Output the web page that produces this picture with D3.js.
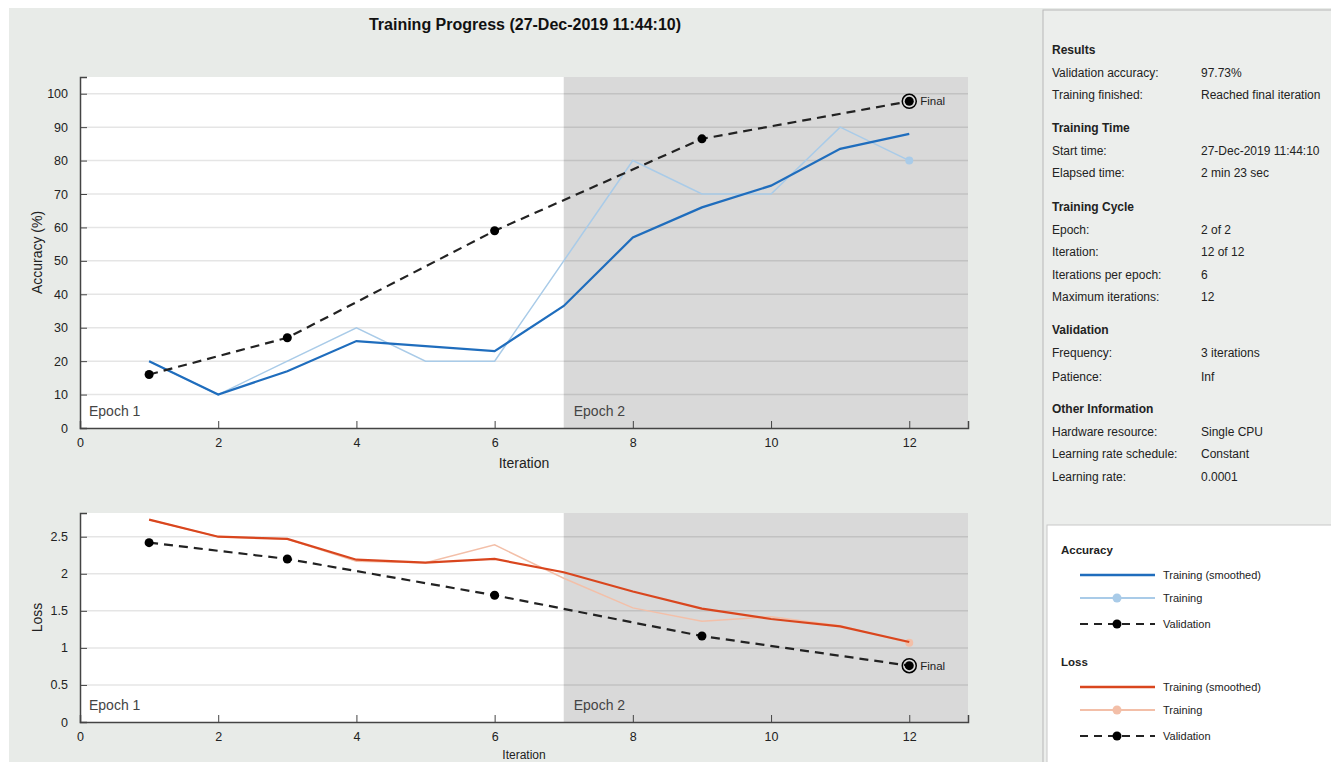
<!DOCTYPE html>
<html>
<head>
<meta charset="utf-8">
<script src="https://cdn.jsdelivr.net/npm/d3@7"></script>
<style>
  body { margin: 0; background: #fff; font-family: "Liberation Sans", Arial, sans-serif; }
  svg { display: block; }
</style>
</head>
<body>
<svg id="chart" width="1331" height="762"></svg>
<script>
// accuracy (%)
const iterations = [1, 2, 3, 4, 5, 6, 7, 8, 9, 10, 11, 12];
const accTrain = [20, 10, 20, 30, 20, 20, 50, 80, 70, 70, 90, 80];
const accSmooth = [20, 10, 17, 26, 24.5, 23, 36.5, 57, 66, 72.5, 83.5, 88];
const valIters = [1, 3, 6, 9, 12];
const accVal = [16, 27, 59, 86.5, 97.73];

// loss
const lossTrain = [2.73, 2.5, 2.47, 2.17, 2.15, 2.39, 1.94, 1.54, 1.36, 1.42, 1.3, 1.07];
const lossSmooth = [2.73, 2.5, 2.47, 2.19, 2.15, 2.2, 2.02, 1.76, 1.53, 1.39, 1.29, 1.08];
const lossVal = [2.42, 2.2, 1.71, 1.16, 0.76];

const iterTicks = [0, 2, 4, 6, 8, 10, 12];
const accTicks = [0, 10, 20, 30, 40, 50, 60, 70, 80, 90, 100];
const lossTicks = [0, 0.5, 1, 1.5, 2, 2.5];

const infoRows = [
  ["Results", null],
  ["Validation accuracy:", "97.73%"],
  ["Training finished:", "Reached final iteration"],
  ["Training Time", null],
  ["Start time:", "27-Dec-2019 11:44:10"],
  ["Elapsed time:", "2 min 23 sec"],
  ["Training Cycle", null],
  ["Epoch:", "2 of 2"],
  ["Iteration:", "12 of 12"],
  ["Iterations per epoch:", "6"],
  ["Maximum iterations:", "12"],
  ["Validation", null],
  ["Frequency:", "3 iterations"],
  ["Patience:", "Inf"],
  ["Other Information", null],
  ["Hardware resource:", "Single CPU"],
  ["Learning rate schedule:", "Constant"],
  ["Learning rate:", "0.0001"]
];

const svg = d3.select("#chart");

// figure background
svg.append("rect").attr("x", 9).attr("y", 8).attr("width", 1331).attr("height", 762).attr("fill", "#e8ebe8");

svg.append("text")
  .text("Training Progress (27-Dec-2019 11:44:10)")
  .attr("x", 525).attr("y", 30)
  .attr("text-anchor", "middle")
  .style("font-size", "16px").style("font-weight", "700").attr("fill", "#111");

const x0 = 80, x1 = 968;

function drawPanel(cfg) {
  const x = d3.scaleLinear().domain([0, 12.85]).range([x0, x1]);
  const y = d3.scaleLinear().domain(cfg.domain).range([cfg.bottom, cfg.top]);
  const g = svg.append("g");

  g.append("rect").attr("x", x0).attr("y", cfg.top)
    .attr("width", x1 - x0).attr("height", cfg.bottom - cfg.top).attr("fill", "#fff");
  g.append("rect").attr("x", x(7)).attr("y", cfg.top)
    .attr("width", x1 - x(7)).attr("height", cfg.bottom - cfg.top).attr("fill", "#d9d9d9");

  // horizontal grid
  g.selectAll(".grid").data(cfg.ticks.slice(1)).enter().append("line")
    .attr("x1", x0).attr("x2", x1)
    .attr("y1", d => y(d)).attr("y2", d => y(d))
    .attr("stroke", "rgba(0,0,0,0.1)").attr("stroke-width", 1.5);

  g.append("text").text("Epoch 1").attr("x", x0 + 9).attr("y", cfg.bottom - 12)
    .style("font-size", "14px").attr("fill", "#444");
  g.append("text").text("Epoch 2").attr("x", x(7) + 10).attr("y", cfg.bottom - 12)
    .style("font-size", "14px").attr("fill", "#444");

  // axes
  const xAxis = d3.axisBottom(x).tickValues(iterTicks).tickSize(-7).tickPadding(10);
  const gx = g.append("g").attr("transform", `translate(0,${cfg.bottom})`).call(xAxis);
  const yAxis = d3.axisLeft(y).tickValues(cfg.ticks).tickSize(-7).tickPadding(12)
    .tickFormat(d => String(d));
  const gy = g.append("g").attr("transform", `translate(${x0},0)`).call(yAxis);
  [gx, gy].forEach(a => {
    a.select(".domain").attr("stroke", "#444").attr("stroke-width", 1.5);
    a.selectAll(".tick line").attr("stroke", "#444");
    a.selectAll(".tick text").style("font-size", "12.5px").attr("fill", "#222")
      .style("font-family", "Liberation Sans, Arial, sans-serif");
  });
  gx.select(".tick line").remove();

  g.append("text").text(cfg.ylabel)
    .attr("transform", `translate(42,${(cfg.top + cfg.bottom) / 2}) rotate(-90)`)
    .attr("text-anchor", "middle").style("font-size", "14px").attr("fill", "#222");
  g.append("text").text("Iteration").attr("x", 524).attr("y", cfg.bottom + cfg.xlabelGap)
    .attr("text-anchor", "middle").style("font-size", cfg.xlabelSize).attr("fill", "#222");

  const line = d3.line().x(d => x(d[0])).y(d => y(d[1]));
  const train = iterations.map((it, i) => [it, cfg.train[i]]);
  const smooth = iterations.map((it, i) => [it, cfg.smooth[i]]);
  const val = valIters.map((it, i) => [it, cfg.val[i]]);

  g.append("path").attr("d", line(train)).attr("fill", "none")
    .attr("stroke", cfg.light).attr("stroke-width", 1.5);
  g.append("circle").attr("cx", x(12)).attr("cy", y(cfg.train[11])).attr("r", 4)
    .attr("fill", cfg.light);
  g.append("path").attr("d", line(smooth)).attr("fill", "none")
    .attr("stroke", cfg.dark).attr("stroke-width", 2.2);
  g.append("path").attr("d", line(val)).attr("fill", "none")
    .attr("stroke", "#222").attr("stroke-width", 2.2).attr("stroke-dasharray", "9,6");
  g.selectAll(".vdot").data(val).enter().append("circle")
    .attr("cx", d => x(d[0])).attr("cy", d => y(d[1])).attr("r", 4.5).attr("fill", "#000");
  const last = val[val.length - 1];
  g.append("circle").attr("cx", x(last[0])).attr("cy", y(last[1])).attr("r", 7)
    .attr("fill", "none").attr("stroke", "#000").attr("stroke-width", 1.5);
  g.append("text").text("Final").attr("x", x(last[0]) + 11).attr("y", y(last[1]) + 4)
    .style("font-size", "11.5px").attr("fill", "#222");
}

drawPanel({
  top: 77, bottom: 428, domain: [0, 105], ticks: accTicks, ylabel: "Accuracy (%)",
  train: accTrain, smooth: accSmooth, val: accVal, xlabelGap: 40, xlabelSize: "14px",
  dark: "#1f6dbd", light: "#a9cbe8"
});
drawPanel({
  top: 513, bottom: 722, domain: [0, 2.82], ticks: lossTicks, ylabel: "Loss",
  train: lossTrain, smooth: lossSmooth, val: lossVal, xlabelGap: 37, xlabelSize: "12px",
  dark: "#d9461e", light: "#f3bfa8"
});

// info panel
svg.append("rect").attr("x", 1043).attr("y", 10).attr("width", 300).attr("height", 770)
  .attr("fill", "#eceeec").attr("stroke", "#b8b8b8");
const rowY = [50, 73, 95, 128, 151, 173, 207, 230, 252, 275, 297, 330, 353, 377, 409, 432, 454, 477];
infoRows.forEach((r, i) => {
  const t = svg.append("text").text(r[0]).attr("x", 1052).attr("y", rowY[i] + 4)
    .style("font-size", "12px").attr("fill", "#222");
  if (r[1] === null) t.style("font-weight", "700");
  else svg.append("text").text(r[1]).attr("x", 1201).attr("y", rowY[i] + 4)
    .style("font-size", "12px").attr("fill", "#222");
});

// legend
svg.append("rect").attr("x", 1047).attr("y", 525).attr("width", 300).attr("height", 250)
  .attr("fill", "#fff").attr("stroke", "#c8c8c8");
const legendGroups = [
  { title: "Accuracy", y: 550, dark: "#1f6dbd", light: "#a9cbe8" },
  { title: "Loss", y: 662, dark: "#d9461e", light: "#f3bfa8" }
];
legendGroups.forEach(lg => {
  svg.append("text").text(lg.title).attr("x", 1061).attr("y", lg.y + 4)
    .style("font-size", "11.5px").style("font-weight", "700").attr("fill", "#222");
  const items = [
    { label: "Training (smoothed)", dy: 25, stroke: lg.dark, w: 2.5, dash: null, dot: null },
    { label: "Training", dy: 48, stroke: lg.light, w: 2, dash: null, dot: lg.light },
    { label: "Validation", dy: 74, stroke: "#222", w: 2.2, dash: "8,6", dot: "#000" }
  ];
  items.forEach(it => {
    const yy = lg.y + it.dy;
    svg.append("line").attr("x1", 1080).attr("x2", 1155).attr("y1", yy).attr("y2", yy)
      .attr("stroke", it.stroke).attr("stroke-width", it.w).attr("stroke-dasharray", it.dash);
    if (it.dot) svg.append("circle").attr("cx", 1117).attr("cy", yy).attr("r", 4.5).attr("fill", it.dot);
    svg.append("text").text(it.label).attr("x", 1163).attr("y", yy + 4)
      .style("font-size", "11px").attr("fill", "#222");
  });
});
</script>
</body>
</html>
